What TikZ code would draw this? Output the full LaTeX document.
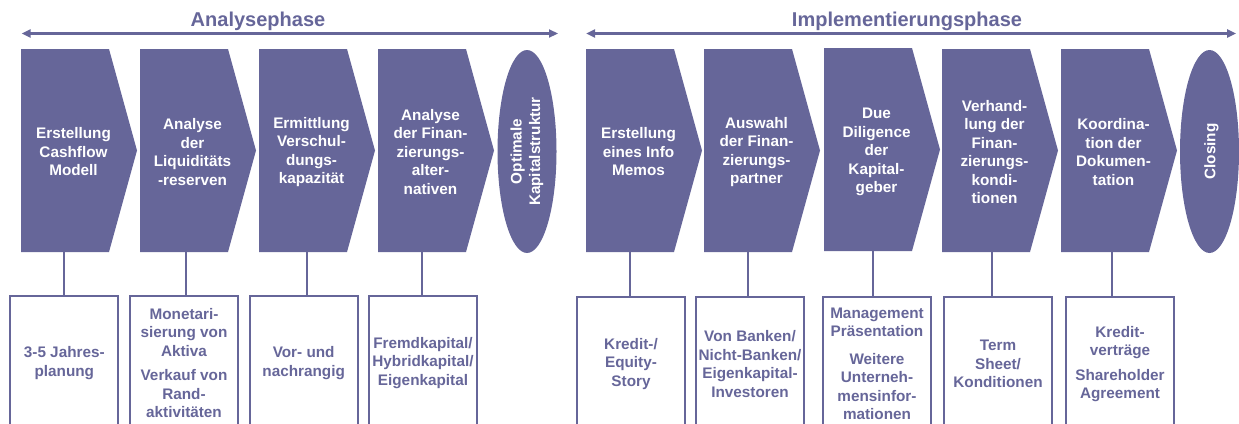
\documentclass[tikz,border=0pt]{standalone}
\usepackage{fontspec}
\setmainfont{Liberation Sans}
\usetikzlibrary{arrows.meta,shapes.geometric}
\definecolor{main}{RGB}{102,102,153}
\begin{document}
\begin{tikzpicture}[x=1pt,y=-1pt,
  phasearrow/.style={draw=main,line width=2.6pt,{Triangle[length=9pt,width=8pt]}-{Triangle[length=9pt,width=8pt]}},
  phasetitle/.style={text=main,font=\fontsize{20}{24}\selectfont\bfseries,anchor=base,inner sep=0pt},
  stepbody/.style={minimum width=88pt,minimum height=203pt,inner sep=0pt,outer sep=0pt,anchor=north west},
  chevfill/.style={fill=main},
  steptext/.style={text=white,font=\fontsize{15.3}{18.5}\selectfont\bfseries,align=center,inner sep=0pt},
  goal/.style={ellipse,fill=main,minimum width=59pt,minimum height=203pt,inner sep=0pt},
  detail/.style={draw=main,line width=1.8pt,minimum width=108pt,minimum height=134pt,anchor=north,inner sep=0pt,
    text=main,font=\fontsize{15.3}{18.5}\selectfont\bfseries,align=center},
  conn/.style={draw=main,line width=2.7pt}]
\useasboundingbox (0,0) rectangle (1239,423);
\clip (0,0) rectangle (1239,423);

% phase arrows and titles
\node[phasetitle] (t1) at (258,26) {Analysephase};
\node[phasetitle] (t2) at (907,26) {Implementierungsphase};
\coordinate (aL) at (21.7,33.5);
\coordinate (aR) at (558,33.5);
\coordinate (bL) at (586,33.5);
\coordinate (bR) at (1236,33.5);
\draw[phasearrow] (aL) -- (aR);
\draw[phasearrow] (bL) -- (bR);

% chevron bodies
\node[stepbody] (s1) at (21,49) {};
\node[stepbody] (s2) at (140,49) {};
\node[stepbody] (s3) at (259,49) {};
\node[stepbody] (s4) at (378,49) {};
\node[stepbody] (s5) at (586,49) {};
\node[stepbody] (s6) at (704,49) {};
\node[stepbody] (s7) at (824,48) {};
\node[stepbody] (s8) at (942,49) {};
\node[stepbody] (s9) at (1061,49) {};
\foreach \s in {s1,s2,s3,s4,s5,s6,s7,s8,s9}{
  \fill[chevfill] (\s.north west) -- (\s.north east) -- ([xshift=28pt]\s.east) -- (\s.south east) -- (\s.south west) -- cycle;
}

% goal ellipses
\node[goal] (e1) at (527,151.5) {};
\node[goal] (e2) at (1209.5,151.5) {};

% chevron texts
\node[steptext] (x1) at ([xshift=52.5pt,yshift=-103pt]s1.north west) {Erstellung\\Cashflow\\Modell};
\node[steptext] (x2) at ([xshift=52.5pt,yshift=-103pt]s2.north west) {Analyse\\der\\Liquiditäts\\-reserven};
\node[steptext] (x3) at ([xshift=52.5pt,yshift=-103pt]s3.north west) {Ermittlung\\Verschul-\\dungs-\\kapazität};
\node[steptext] (x4) at ([xshift=52.5pt,yshift=-103pt]s4.north west) {Analyse\\der Finan-\\zierungs-\\alter-\\nativen};
\node[steptext] (x5) at ([xshift=52.5pt,yshift=-103pt]s5.north west) {Erstellung\\eines Info\\Memos};
\node[steptext] (x6) at ([xshift=52.5pt,yshift=-103pt]s6.north west) {Auswahl\\der Finan-\\zierungs-\\partner};
\node[steptext] (x7) at ([xshift=52.5pt,yshift=-104pt]s7.north west) {Due\\Diligence\\der\\Kapital-\\geber};
\node[steptext] (x8) at ([xshift=52.5pt,yshift=-103pt]s8.north west) {Verhand-\\lung der\\Finan-\\zierungs-\\kondi-\\tionen};
\node[steptext] (x9) at ([xshift=52.5pt,yshift=-103pt]s9.north west) {Koordina-\\tion der\\Dokumen-\\tation};
\node[steptext,rotate=90] (xe1) at (e1.center) {Optimale\\Kapitalstruktur};
\node[steptext,rotate=90] (xe2) at ([xshift=2pt]e2.center) {Closing};

% detail boxes
\node[detail] (d1) at (64.3,295) {3-5 Jahres-\\planung};
\node[detail] (d2) at (184,295) {Monetari-\\sierung von\\Aktiva\\[6pt]Verkauf von\\Rand-\\aktivitäten};
\node[detail] (d3) at (303.7,295) {Vor- und\\nachrangig};
\node[detail] (d4) at (423,295) {Fremdkapital/\\Hybridkapital/\\Eigenkapital};
\node[detail] (d5) at (631,296) {Kredit-/\\Equity-\\Story};
\node[detail] (d6) at (750,296) {Von Banken/\\Nicht-Banken/\\Eigenkapital-\\Investoren};
\node[detail] (d7) at (877,296) {Management\\Präsentation\\[9pt]Weitere\\Unterneh-\\mensinfor-\\mationen};
\node[detail] (d8) at (998,296) {Term\\Sheet/\\Konditionen};
\node[detail] (d9) at (1120,296) {Kredit-\\verträge\\[6pt]Shareholder\\Agreement};

% connectors
\foreach \s/\d/\o in {s1/d1/43,s2/d2/46,s3/d3/48,s4/d4/44,s5/d5/44,s6/d6/44,s7/d7/49,s8/d8/50,s9/d9/51}{
  \draw[conn] ([xshift=\o pt]\s.south west) coordinate (c-\s) -- (c-\s |- \d.north);
}
\end{tikzpicture}
\end{document}
